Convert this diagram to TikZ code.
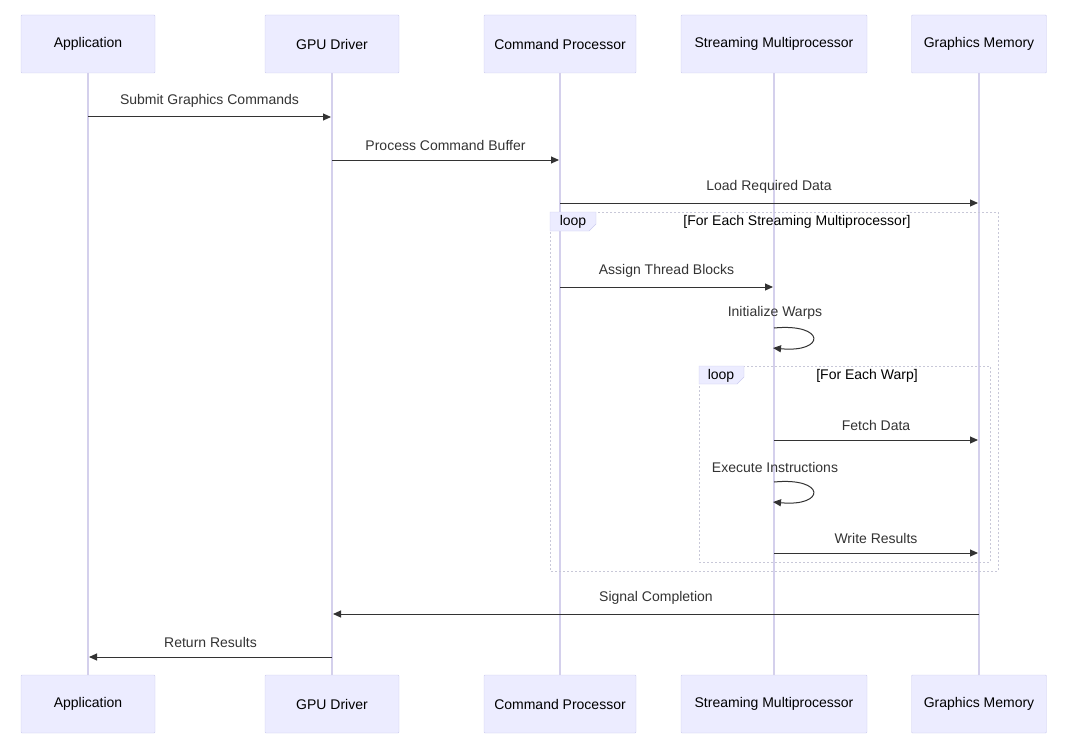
\documentclass[tikz,border=0pt]{standalone}
\usepackage{fontspec}
\setmainfont{Liberation Sans}
\usetikzlibrary{arrows.meta}
\definecolor{actfill}{HTML}{ECECFF}
\definecolor{actdraw}{HTML}{CCCCEE}
\definecolor{lifec}{HTML}{D4D0EC}
\definecolor{msgc}{HTML}{333333}
\definecolor{loopc}{HTML}{C8C8D8}
\begin{document}
\begin{tikzpicture}[x=1pt,y=-1pt,
  actor/.style={draw=actdraw,fill=actfill,minimum height=58pt,inner sep=0pt,font=\fontsize{14}{16}\selectfont,rounded corners=1pt},
  life/.style={draw=lifec,line width=1.2pt},
  msg/.style={draw=msgc,line width=1pt,-{Triangle[length=8pt,width=7pt]}},
  lbl/.style={font=\fontsize{14}{16}\selectfont,text=msgc},
  loopbox/.style={draw=loopc,line width=1pt,dash pattern=on 2pt off 2pt},
  tab/.style={fill=actfill,draw=actdraw}]
\useasboundingbox (0,0) rectangle (1075,749);
% actors
\foreach \n/\x/\w/\t in {a/88/134/Application,g/332/134/GPU Driver,c/560/152/Command Processor,s/774/186/Streaming Multiprocessor,m/979/135/Graphics Memory}{
  \node[actor,minimum width=\w pt] (\n top) at (\x,44) {\t};
  \node[actor,minimum width=\w pt] (\n bot) at (\x,704) {\t};
  \draw[life] (\n top.south) -- (\n bot.north);
}
% loops
\draw[loopbox] (550,212) rectangle (998,571);
\draw[tab] (550,212) -- (596,212) -- (596,224) -- (589,231) -- (550,231) -- cycle;
\node[lbl,text=black] (l1) at (573,222) {loop};
\node[lbl,text=black] (l1t) at (797,222) {[For Each Streaming Multiprocessor]};
\draw[loopbox] (699,366) rectangle (990,562);
\draw[tab] (699,366) -- (744,366) -- (744,377) -- (737,384) -- (699,384) -- cycle;
\node[lbl,text=black] (l2) at (721,376) {loop};
\node[lbl,text=black] (l2t) at (867,376) {[For Each Warp]};
% messages
\coordinate (a1) at (88,117); \coordinate (g1) at (331,117);
\draw[msg] (a1) -- (g1) node[lbl,midway,above=6pt] {Submit Graphics Commands};
\coordinate (g2) at (332,160); \coordinate (c2) at (559,160);
\draw[msg] (g2) -- (c2) node[lbl,midway,above=6pt] {Process Command Buffer};
\coordinate (c3) at (560,203); \coordinate (m3) at (978,203);
\draw[msg] (c3) -- (m3) node[lbl,midway,above=6pt] {Load Required Data};
\coordinate (c4) at (560,287); \coordinate (s4) at (773,287);
\draw[msg] (c4) -- (s4) node[lbl,midway,above=6pt] {Assign Thread Blocks};
\coordinate (s5a) at (774,328); \coordinate (s5b) at (773,348);
\node[lbl] (t5) at (775,313) {Initialize Warps};
\draw[msg] (s5a) .. controls (826,323) and (826,353) .. (s5b);
\coordinate (s6) at (774,440); \coordinate (m6) at (978,440);
\draw[msg] (s6) -- (m6) node[lbl,midway,above=6pt] {Fetch Data};
\coordinate (s7a) at (774,482); \coordinate (s7b) at (773,502);
\node[lbl] (t7) at (775,467) {Execute Instructions};
\draw[msg] (s7a) .. controls (826,477) and (826,507) .. (s7b);
\coordinate (s8) at (774,553); \coordinate (m8) at (978,553);
\draw[msg] (s8) -- (m8) node[lbl,midway,above=6pt] {Write Results};
\coordinate (m9) at (979,614); \coordinate (g9) at (333,614);
\draw[msg] (m9) -- (g9) node[lbl,midway,above=6pt] {Signal Completion};
\coordinate (g10) at (332,657); \coordinate (a10) at (89,657);
\draw[msg] (g10) -- (a10) node[lbl,midway,above=6pt] {Return Results};
\end{tikzpicture}
\end{document}
